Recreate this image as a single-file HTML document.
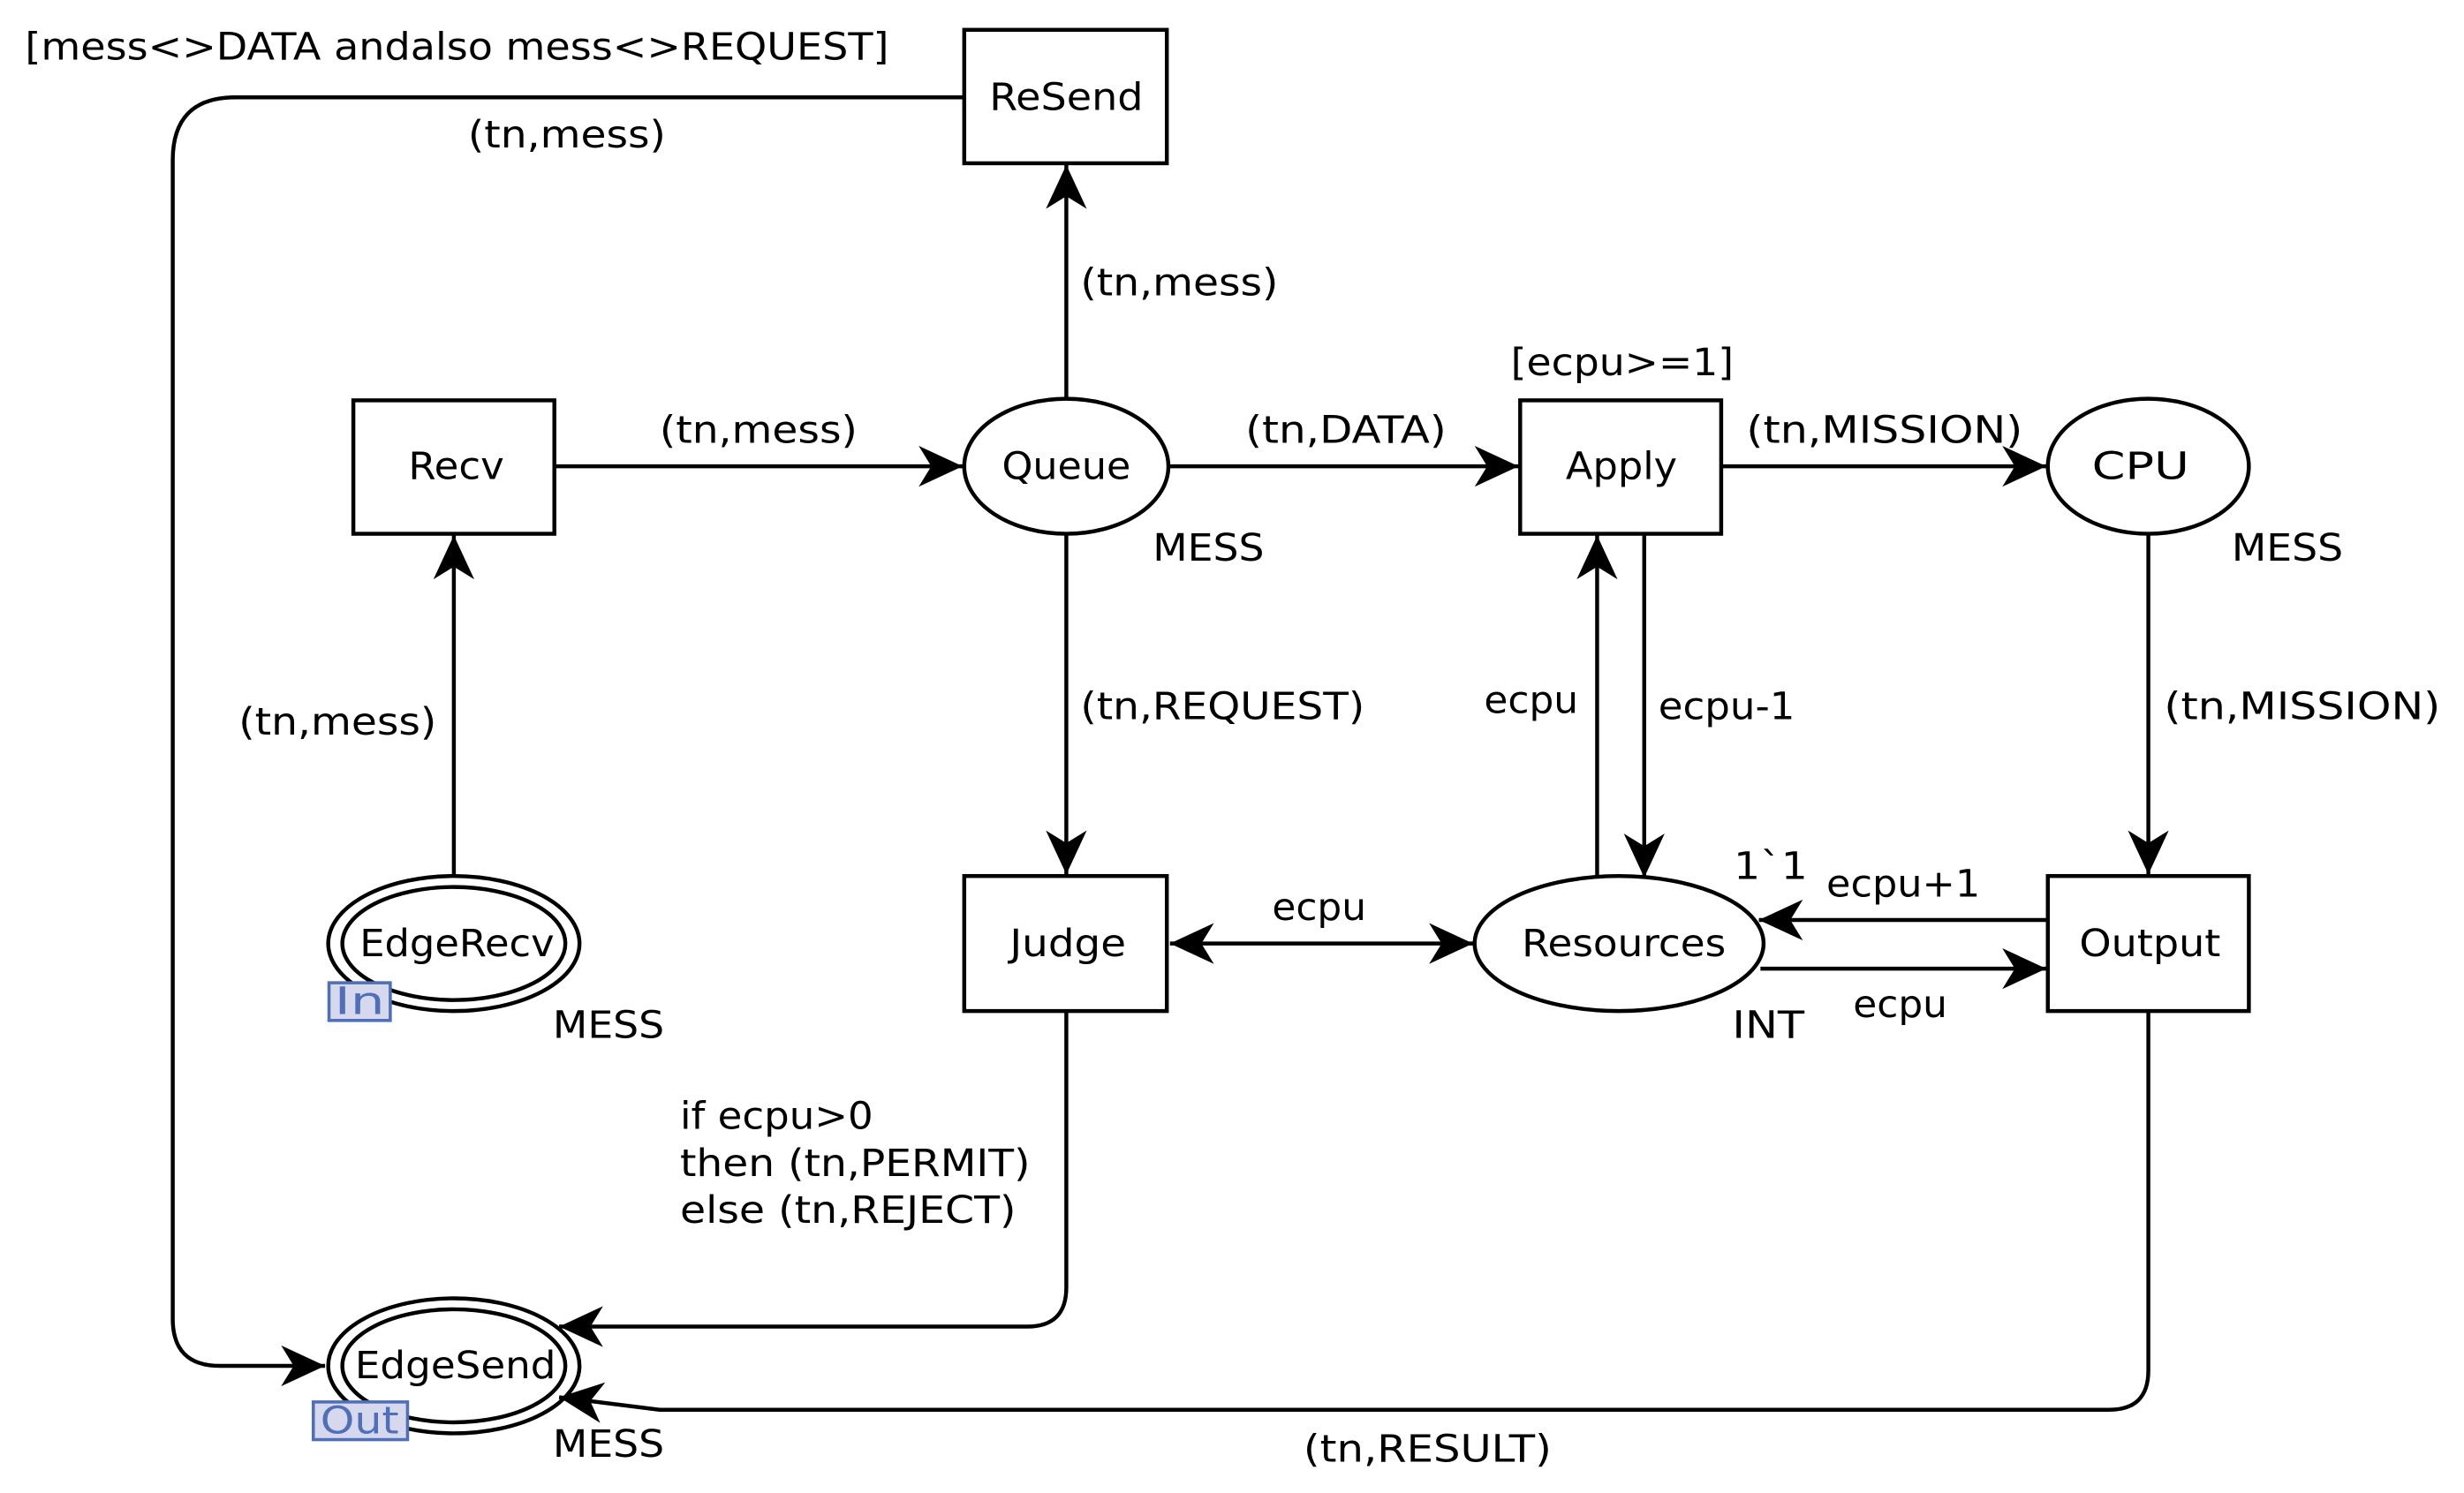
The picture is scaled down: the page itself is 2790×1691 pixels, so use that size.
<!DOCTYPE html>
<html><head><meta charset="utf-8"><style>
html,body{margin:0;padding:0;background:#fff;}
svg{display:block;}
text{font-family:"DejaVu Sans","Liberation Sans",sans-serif;font-size:24px;fill:#000;}
</style></head><body>
<svg width="2790" height="1691" viewBox="0 0 1569 951" preserveAspectRatio="none" xmlns="http://www.w3.org/2000/svg">
<defs>
<marker id="a" markerWidth="30" markerHeight="30" refX="28" refY="13" orient="auto" markerUnits="userSpaceOnUse">
<path d="M28,13 L0,0 L8,13 L0,26 Z" fill="#000"/>
</marker>
<marker id="s" markerWidth="30" markerHeight="30" refX="0" refY="13" orient="auto" markerUnits="userSpaceOnUse">
<path d="M0,13 L28,0 L20,13 L28,26 Z" fill="#000"/>
</marker>
</defs>
<g fill="none" stroke="#000" stroke-width="2.5">
<rect x="614" y="19" width="129" height="85" fill="#fff"/>
<rect x="225" y="255" width="128" height="85" fill="#fff"/>
<ellipse cx="679" cy="297" rx="65" ry="43" fill="#fff"/>
<rect x="968" y="255" width="128" height="85" fill="#fff"/>
<ellipse cx="1368" cy="297" rx="64" ry="43" fill="#fff"/>
<rect x="614" y="558" width="129" height="86" fill="#fff"/>
<ellipse cx="1031" cy="601" rx="92" ry="43" fill="#fff"/>
<rect x="1304" y="558" width="128" height="86" fill="#fff"/>
<ellipse cx="289" cy="601" rx="80" ry="43" fill="#fff"/>
<ellipse cx="289" cy="601" rx="71" ry="36"/>
<ellipse cx="289" cy="870" rx="80" ry="43" fill="#fff"/>
<ellipse cx="289" cy="870" rx="71" ry="36"/>
<path d="M614,62 H150 Q110,62 110,102 V840 Q110,870 140,870 H207" marker-end="url(#a)"/>
<path d="M679,254 V105" marker-end="url(#a)"/>
<path d="M353,297 H613" marker-end="url(#a)"/>
<path d="M744,297 H967" marker-end="url(#a)"/>
<path d="M1096,297 H1303" marker-end="url(#a)"/>
<path d="M679,340 V557" marker-end="url(#a)"/>
<path d="M289,558 V341" marker-end="url(#a)"/>
<path d="M1017,558 V341" marker-end="url(#a)"/>
<path d="M1047,340 V559" marker-end="url(#a)"/>
<path d="M1368,340 V557" marker-end="url(#a)"/>
<path d="M745,601 H938" marker-start="url(#s)" marker-end="url(#a)"/>
<path d="M1304,586 H1120" marker-end="url(#a)"/>
<path d="M1121,617 H1303" marker-end="url(#a)"/>
<path d="M679,644 V820 Q679,845 654,845 H356" marker-end="url(#a)"/>
<path d="M1368,644 V873 Q1368,898 1343,898 H420 L356,890" marker-end="url(#a)"/>
</g>
<rect x="209.5" y="626" width="39" height="24" fill="#d6d9ee" stroke="#4f6fb8" stroke-width="2"/>
<text x="213" y="646" style="fill:#4f6fb8" textLength="32" lengthAdjust="spacingAndGlyphs">In</text>
<rect x="199.5" y="893" width="60" height="24" fill="#d6d9ee" stroke="#4f6fb8" stroke-width="2"/>
<text x="204" y="913" style="fill:#4f6fb8" textLength="50" lengthAdjust="spacingAndGlyphs">Out</text>
<text x="630" y="70" textLength="98" lengthAdjust="spacingAndGlyphs">ReSend</text>
<text x="260" y="305" textLength="61" lengthAdjust="spacingAndGlyphs">Recv</text>
<text x="638" y="305" textLength="82" lengthAdjust="spacingAndGlyphs">Queue</text>
<text x="997" y="305" textLength="71" lengthAdjust="spacingAndGlyphs">Apply</text>
<text x="1332" y="305" textLength="62" lengthAdjust="spacingAndGlyphs">CPU</text>
<text x="643" y="609" textLength="74" lengthAdjust="spacingAndGlyphs">Judge</text>
<text x="969" y="609" textLength="130" lengthAdjust="spacingAndGlyphs">Resources</text>
<text x="1324" y="609" textLength="90" lengthAdjust="spacingAndGlyphs">Output</text>
<text x="229" y="609" textLength="124" lengthAdjust="spacingAndGlyphs">EdgeRecv</text>
<text x="226" y="878" textLength="128" lengthAdjust="spacingAndGlyphs">EdgeSend</text>
<text x="16" y="38" textLength="550" lengthAdjust="spacingAndGlyphs">[mess&lt;&gt;DATA andalso mess&lt;&gt;REQUEST]</text>
<text x="298" y="94" textLength="126" lengthAdjust="spacingAndGlyphs">(tn,mess)</text>
<text x="688" y="188" textLength="126" lengthAdjust="spacingAndGlyphs">(tn,mess)</text>
<text x="420" y="282" textLength="126" lengthAdjust="spacingAndGlyphs">(tn,mess)</text>
<text x="793" y="282" textLength="128" lengthAdjust="spacingAndGlyphs">(tn,DATA)</text>
<text x="962" y="239" textLength="142" lengthAdjust="spacingAndGlyphs">[ecpu&gt;=1]</text>
<text x="1112" y="282" textLength="176" lengthAdjust="spacingAndGlyphs">(tn,MISSION)</text>
<text x="734" y="357" textLength="71" lengthAdjust="spacingAndGlyphs">MESS</text>
<text x="1421" y="357" textLength="71" lengthAdjust="spacingAndGlyphs">MESS</text>
<text x="688" y="458" textLength="181" lengthAdjust="spacingAndGlyphs">(tn,REQUEST)</text>
<text x="152" y="468" textLength="126" lengthAdjust="spacingAndGlyphs">(tn,mess)</text>
<text x="945" y="454" textLength="60" lengthAdjust="spacingAndGlyphs">ecpu</text>
<text x="1056" y="458" textLength="87" lengthAdjust="spacingAndGlyphs">ecpu-1</text>
<text x="1378" y="458" textLength="176" lengthAdjust="spacingAndGlyphs">(tn,MISSION)</text>
<text x="810" y="586" textLength="60" lengthAdjust="spacingAndGlyphs">ecpu</text>
<text x="1104" y="560" textLength="47" lengthAdjust="spacingAndGlyphs">1`1</text>
<text x="1163" y="571" textLength="98" lengthAdjust="spacingAndGlyphs">ecpu+1</text>
<text x="1180" y="648" textLength="60" lengthAdjust="spacingAndGlyphs">ecpu</text>
<text x="1103" y="661" textLength="46" lengthAdjust="spacingAndGlyphs">INT</text>
<text x="352" y="661" textLength="71" lengthAdjust="spacingAndGlyphs">MESS</text>
<text x="352" y="928" textLength="71" lengthAdjust="spacingAndGlyphs">MESS</text>
<text x="433" y="719" textLength="123" lengthAdjust="spacingAndGlyphs">if ecpu&gt;0</text>
<text x="433" y="749" textLength="223" lengthAdjust="spacingAndGlyphs">then (tn,PERMIT)</text>
<text x="433" y="779" textLength="214" lengthAdjust="spacingAndGlyphs">else (tn,REJECT)</text>
<text x="830" y="931" textLength="158" lengthAdjust="spacingAndGlyphs">(tn,RESULT)</text>
</svg>
</body></html>
